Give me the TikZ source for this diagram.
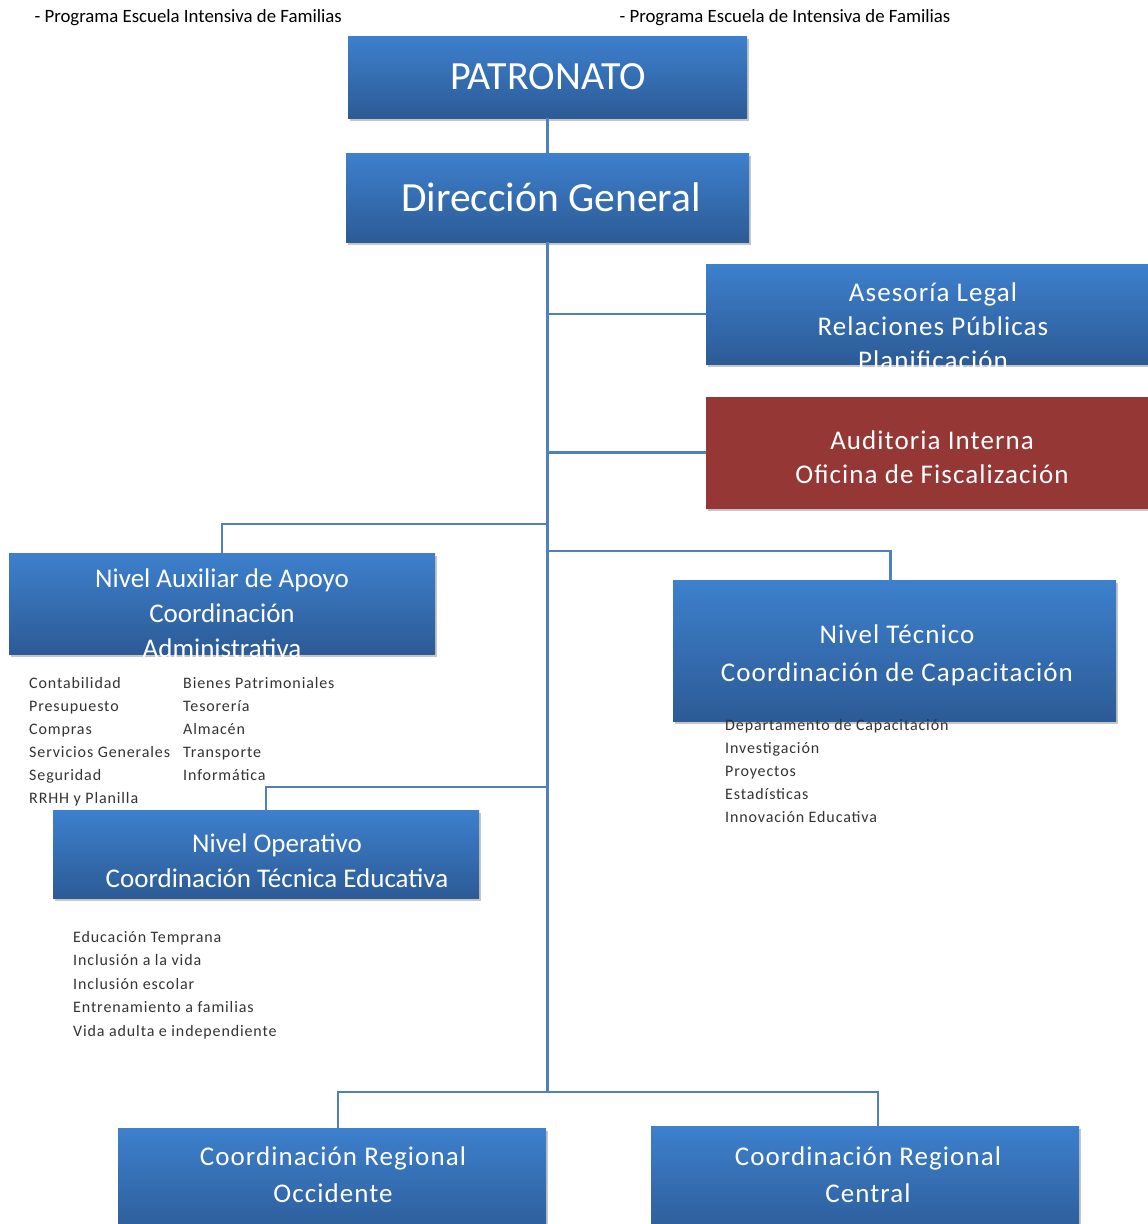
\documentclass[tikz,border=0pt]{standalone}
\usepackage{fontspec}
\setmainfont{Carlito}
\newfontfamily\spacedFont[LetterSpace=4]{Carlito}
\newfontfamily\listFace[LetterSpace=5.5]{Carlito}
\usetikzlibrary{shadows}
\definecolor{boxTop}{HTML}{3D80CD}
\definecolor{boxBottom}{HTML}{2C5B96}
\definecolor{auditRed}{HTML}{953735}
\definecolor{linkBlue}{HTML}{4F81BD}
\newcommand{\headFont}[0]{\fontsize{18.8}{20}\selectfont}
\newcommand{\boxFont}[0]{\fontsize{27}{34}\selectfont}
\newcommand{\wideFont}[0]{\spacedFont\fontsize{27}{34}\selectfont}
\newcommand{\listFont}[0]{\listFace\fontsize{16}{23}\selectfont}

\begin{document}
\begin{tikzpicture}[x=1pt, y=-1pt]
  \tikzset{
    orgbox/.style={draw=none, inner sep=0pt, top color=boxTop, bottom color=boxBottom,
      drop shadow={shadow xshift=2pt, shadow yshift=-3pt, opacity=0.45}},
    redbox/.style={orgbox, top color=auditRed, bottom color=auditRed},
    boxtext/.style={text=white, align=center, font=\boxFont},
    listtext/.style={text=black!80, align=left, anchor=north west, inner sep=0pt, font=\listFont},
    link/.style={draw=linkBlue, line width=2.5pt}
  }
  \useasboundingbox (0,0) rectangle (1148,1224);

  \node[anchor=west, font=\headFont] (headLeft) at (31,18) {- Programa Escuela Intensiva de Familias};
  \node[anchor=west, font=\headFont] (headRight) at (616,18) {- Programa Escuela de Intensiva de Familias};

  % boxes
  \node[orgbox, minimum width=399, minimum height=82] (patronato) at (547.5,77) {};
  \node[orgbox, minimum width=403, minimum height=89] (direccion) at (547.5,197.5) {};
  \node[orgbox, minimum width=442, minimum height=100] (asesoria) at (927,314) {};
  \node[redbox, minimum width=442, minimum height=111] (auditoria) at (927,452.5) {};
  \node[orgbox, minimum width=426, minimum height=101] (auxiliar) at (222,603.5) {};
  \node[orgbox, minimum width=443, minimum height=141] (tecnico) at (894.5,650.5) {};
  \node[orgbox, minimum width=426, minimum height=88] (operativo) at (266,854) {};
  \node[orgbox, minimum width=428, minimum height=112] (occidente) at (332,1184) {};
  \node[orgbox, minimum width=428, minimum height=114] (central) at (865,1183) {};

  \node[boxtext, font=\fontsize{40}{44}\selectfont] (patronato-t) at (548,77) {PATRONATO};
  \node[boxtext, font=\fontsize{41.5}{44}\selectfont] (direccion-t) at (551,197) {Dirección General};
  \node[boxtext, font=\wideFont] (asesoria-t) at (933,326) {Asesoría Legal\\Relaciones Públicas\\Planificación};
  \node[boxtext, font=\wideFont] (auditoria-t) at (932,457.5) {Auditoria Interna\\Oficina de Fiscalización};
  \node[boxtext, font=\fontsize{27}{35}\selectfont] (auxiliar-t) at (222,613) {Nivel Auxiliar de Apoyo\\Coordinación\\Administrativa};
  \node[boxtext, font=\spacedFont\fontsize{27}{38}\selectfont] (tecnico-t) at (897,655) {Nivel Técnico\\Coordinación de Capacitación};
  \node[boxtext, font=\fontsize{27}{35}\selectfont] (operativo-t) at (277,860.5) {Nivel Operativo\\Coordinación Técnica Educativa};
  \node[boxtext, font=\spacedFont\fontsize{27}{37}\selectfont] (occidente-t) at (333,1174.5) {Coordinación Regional\\Occidente};
  \node[boxtext, font=\spacedFont\fontsize{27}{37}\selectfont] (central-t) at (868,1174.5) {Coordinación Regional\\Central};

  % lists
  \node[listtext] (auxList-a) at (29,677) {Contabilidad\\Presupuesto\\Compras\\Servicios Generales\\Seguridad\\RRHH y Planilla};
  \node[listtext] (auxList-b) at (183,677) {Bienes Patrimoniales\\Tesorería\\Almacén\\Transporte\\Informática};
  \node[listtext] (tecList) at (725,719) {Departamento de Capacitación\\Investigación\\Proyectos\\Estadísticas\\Innovación Educativa};
  \node[listtext, font=\listFace\fontsize{16}{23.5}\selectfont] (opeList) at (73,931) {Educación Temprana\\Inclusión a la vida\\Inclusión escolar\\Entrenamiento a familias\\Vida adulta e independiente};

  % connectors
  \coordinate (trunkEnd) at (direccion.south |- 0,1092);
  \coordinate (jAsesoria) at (direccion.south |- asesoria.west);
  \coordinate (jAuditoria) at (direccion.south |- auditoria.west);
  \coordinate (jAuxiliar) at (direccion.south |- 0,524);
  \coordinate (jTecnico) at (direccion.south |- 0,551);
  \coordinate (jOperativo) at (direccion.south |- 0,787);
  \draw[link] (patronato) -- (direccion);
  \draw[link] (direccion.south) -- (trunkEnd);
  \draw[link] (jAsesoria) -- (asesoria.west);
  \draw[link] (jAuditoria) -- (auditoria.west);
  \draw[link] (jAuxiliar) -| (auxiliar.north);
  \draw[link] (jTecnico) -| ([xshift=-4pt]tecnico.north);
  \draw[link] (jOperativo) -| (operativo.north);
  \draw[link] ([xshift=6pt]occidente.north) |- (trunkEnd) -| ([xshift=13pt]central.north);
\end{tikzpicture}
\end{document}
